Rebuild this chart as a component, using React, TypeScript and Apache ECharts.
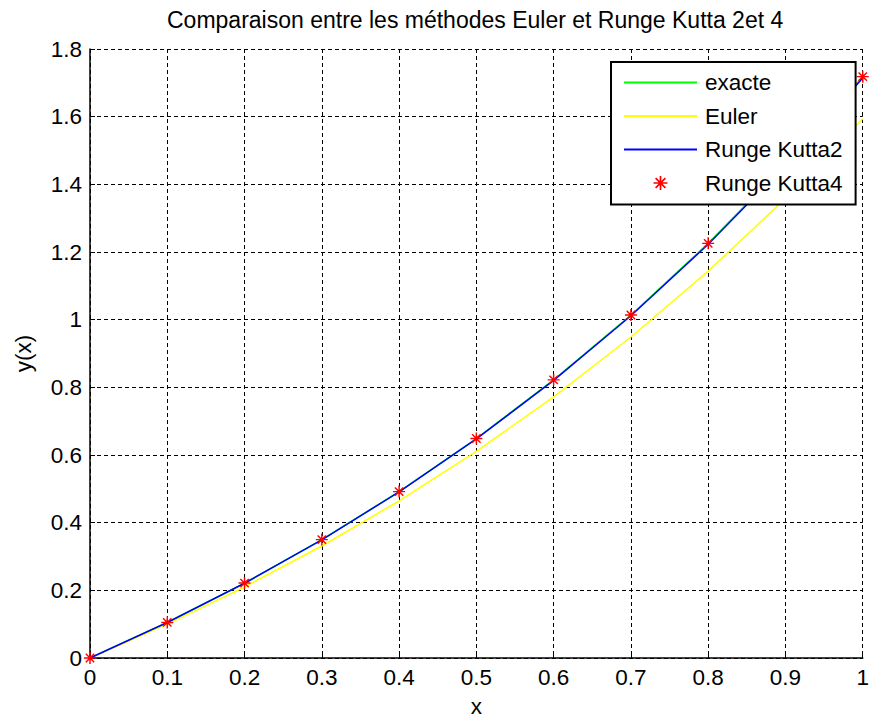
import React, { useEffect, useRef } from "react";
import * as echarts from "echarts";

const xValues = [0, 0.1, 0.2, 0.3, 0.4, 0.5, 0.6, 0.7, 0.8, 0.9, 1];
const exacte = [0, 0.1052, 0.2214, 0.3499, 0.4918, 0.6487, 0.8221, 1.0138, 1.2255, 1.4596, 1.7183];
const euler = [0, 0.1, 0.21, 0.331, 0.4641, 0.6105, 0.7716, 0.9487, 1.1436, 1.3579, 1.5937];
const rk2 = [0, 0.105, 0.221, 0.3492, 0.4909, 0.6474, 0.8204, 1.0115, 1.2227, 1.4561, 1.714];
const rk4 = [0, 0.1052, 0.2214, 0.3499, 0.4918, 0.6487, 0.8221, 1.0138, 1.2255, 1.4596, 1.7183];

const seriesNames = ["exacte", "Euler", "Runge Kutta2", "Runge Kutta4"];
const titleText = "Comparaison entre les méthodes Euler et Runge Kutta 2et 4";

const STAR =
  "path://M-0.12,-1L0.12,-1L0.12,1L-0.12,1Z" +
  "M-1,-0.12L1,-0.12L1,0.12L-1,0.12Z" +
  "M-0.615,-0.785L0.785,0.615L0.615,0.785L-0.785,-0.615Z" +
  "M0.785,-0.615L-0.615,0.785L-0.785,0.615L0.615,-0.785Z";
const LINE_ICON = "path://M0,0H100V3H0Z";

const pairs = (ys: number[]) => xValues.map((x, i) => [x, ys[i]]);

export default function App() {
  const ref = useRef<HTMLDivElement>(null);
  useEffect(() => {
    if (!ref.current) return;
    const chart = echarts.init(ref.current, null, { renderer: "svg" });
    const font = "Liberation Sans";
    const FS = 22.5;
    const gridLine = { show: true, lineStyle: { color: "#000", width: 1, type: [4, 3] as any } };
    chart.setOption({
      animation: false,
      backgroundColor: "#fff",
      textStyle: { fontFamily: font },
      title: {
        text: titleText,
        left: 167,
        top: 8,
        padding: 0,
        textStyle: { fontFamily: font, fontSize: 23, fontWeight: "normal", color: "#000" },
      },
      grid: { left: 90, right: 6, top: 49, bottom: 61, containLabel: false },
      legend: {
        orient: "vertical",
        left: 611,
        top: 62,
        padding: [9, 13, 10, 13],
        borderColor: "#000",
        borderWidth: 2,
        backgroundColor: "#fff",
        itemWidth: 73,
        itemHeight: 14,
        itemGap: 10.5,
        textStyle: { fontFamily: font, fontSize: FS, color: "#000", lineHeight: 23, padding: [0, 0, 0, 3] },
        data: [
          { name: seriesNames[0], icon: LINE_ICON },
          { name: seriesNames[1], icon: LINE_ICON },
          { name: seriesNames[2], icon: LINE_ICON },
          { name: seriesNames[3], icon: STAR },
        ],
      },
      xAxis: {
        type: "value",
        min: 0,
        max: 1,
        interval: 0.1,
        name: "x",
        nameLocation: "middle",
        nameGap: 37,
        nameTextStyle: { fontFamily: font, fontSize: FS, color: "#000" },
        axisLine: { show: true, onZero: false, lineStyle: { color: "#000", width: 1.5 } },
        axisTick: { show: true, inside: true, length: 5, lineStyle: { color: "#000" } },
        axisLabel: { fontFamily: font, fontSize: FS, color: "#000", margin: 8 },
        splitLine: gridLine,
      },
      yAxis: {
        type: "value",
        min: 0,
        max: 1.8,
        interval: 0.2,
        name: "y(x)",
        nameLocation: "middle",
        nameGap: 55,
        nameTextStyle: { fontFamily: font, fontSize: FS, color: "#000" },
        axisLine: { show: true, onZero: false, lineStyle: { color: "#000", width: 1.5 } },
        axisTick: { show: true, inside: true, length: 5, lineStyle: { color: "#000" } },
        axisLabel: { fontFamily: font, fontSize: FS, color: "#000", margin: 8 },
        splitLine: gridLine,
      },
      series: [
        {
          name: seriesNames[0],
          type: "line",
          data: pairs(exacte),
          symbol: "none",
          lineStyle: { color: "#00ff00", width: 1.5 },
          itemStyle: { color: "#00ff00" },
        },
        {
          name: seriesNames[1],
          type: "line",
          data: pairs(euler),
          symbol: "none",
          lineStyle: { color: "#ffff00", width: 1.5 },
          itemStyle: { color: "#ffff00" },
        },
        {
          name: seriesNames[2],
          type: "line",
          data: pairs(rk2),
          symbol: "none",
          lineStyle: { color: "#0000ff", width: 1.5 },
          itemStyle: { color: "#0000ff" },
        },
        {
          name: seriesNames[3],
          type: "line",
          data: pairs(rk4),
          symbol: STAR,
          symbolSize: 12,
          showAllSymbol: true,
          clip: false,
          lineStyle: { width: 0, opacity: 0 },
          itemStyle: { color: "#ff0000" },
        },
      ],
    });
    return () => chart.dispose();
  }, []);
  return (
    <div
      ref={ref}
      style={{ position: "fixed", left: 0, top: 0, width: 872, height: 723 }}
    />
  );
}
